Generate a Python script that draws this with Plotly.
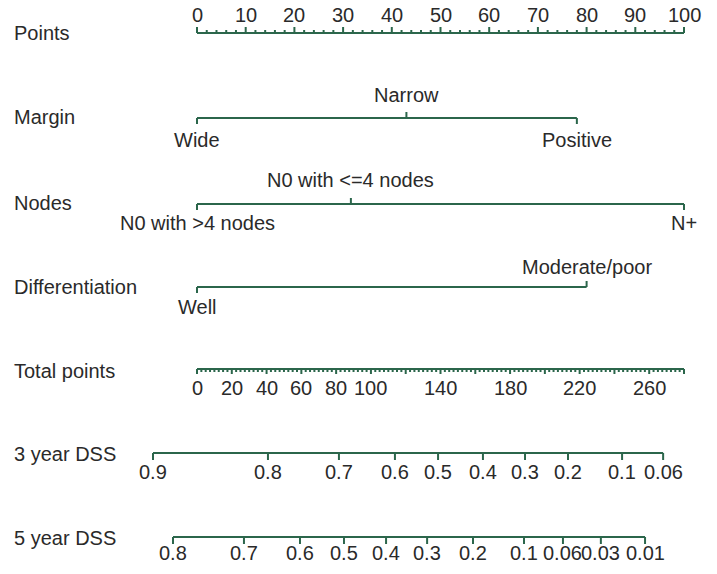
import plotly.graph_objects as go

# ---------------- data ----------------
points_labels = [0, 10, 20, 30, 40, 50, 60, 70, 80, 90, 100]

margin_levels = ["Wide", "Narrow", "Positive"]
margin_points = [0, 43, 78]
margin_side = ["below", "above", "below"]

nodes_levels = ["N0 with >4 nodes", "N0 with <=4 nodes", "N+"]
nodes_points = [0, 31.6, 100]
nodes_side = ["below", "above", "below"]

diff_levels = ["Well", "Moderate/poor"]
diff_points = [0, 80]
diff_side = ["below", "above"]

total_labels = [0, 20, 40, 60, 80, 100, 140, 180, 220, 260]
total_max = 280

dss3_labels = ["0.9", "0.8", "0.7", "0.6", "0.5", "0.4", "0.3", "0.2", "0.1", "0.06"]
dss3_total = [-25.3, 40.8, 81.6, 113.8, 138.6, 164.4, 188.6, 213.3, 244.4, 268.0]

dss5_labels = ["0.8", "0.7", "0.6", "0.5", "0.4", "0.3", "0.2", "0.1", "0.06", "0.03", "0.01"]
dss5_total = [-13.8, 27.0, 59.2, 84.5, 108.7, 132.3, 158.7, 188.0, 210.4, 232.2, 257.6]

row_names = ["Points", "Margin", "Nodes", "Differentiation", "Total points", "3 year DSS", "5 year DSS"]

# ---------------- style / layout ----------------
W, H = 717, 574
PX0, PX100 = 197.0, 684.0   # pixel positions of points 0 and 100
ppx = (PX100 - PX0) / 100.0
row_y = [33, 118, 204, 287, 369, 453, 537]
label_y = [33, 117, 203, 287, 371, 454, 538]
GREEN = "#2b664b"
TXT = "#2a2a2a"
FONT = "Liberation Sans, Arial, sans-serif"
FS = 20

def t2p(t):  # total points -> points scale
    return t * 100.0 / total_max

fig = go.Figure()

def add_line(xs, ys):
    fig.add_trace(go.Scatter(x=xs, y=ys, mode="lines", line=dict(color=GREEN, width=2),
                             hoverinfo="skip", showlegend=False))

def ticks(xvals, y, length):
    xs, ys = [], []
    for x in xvals:
        xs += [x, x, None]
        ys += [y, y + length, None]
    add_line(xs, ys)

ann = []
def text(x, y, s, xanchor="center", size=FS):
    ann.append(dict(x=x, y=y, text=s, showarrow=False, xanchor=xanchor, yanchor="middle",
                    font=dict(family=FONT, size=size, color=TXT)))

# row labels
left_x = (12 - PX0) / ppx
for name, y in zip(row_names, label_y):
    text(left_x, y, name, xanchor="left")

# Points axis
y = row_y[0]
add_line([0, 100], [y, y])
ticks(points_labels, y, -6)
ticks([v for v in range(0, 101, 2) if v % 10 != 0], y, -3)
for v in points_labels:
    text(v, y - 18, str(v))

# categorical variables
for levels, pts, sides, y, up, dn in [(margin_levels, margin_points, margin_side, row_y[1], 23, 22),
                                      (nodes_levels, nodes_points, nodes_side, row_y[2], 24, 19),
                                      (diff_levels, diff_points, diff_side, row_y[3], 20, 20)]:
    add_line([min(pts), max(pts)], [y, y])
    for lv, p, sd in zip(levels, pts, sides):
        if sd == "above":
            ticks([p], y, -6)
            text(p, y - up, lv)
        else:
            ticks([p], y, 6)
            text(p, y + dn, lv)

# Total points
y = row_y[4]
add_line([0, t2p(total_max)], [y, y])
ticks([t2p(v) for v in range(0, total_max + 1, 20)], y, 5)
minor = [v / 2 for v in range(0, total_max * 2 + 1, 5) if (v / 2) % 20 != 0]
ticks([t2p(v) for v in minor], y, 3)
for v in total_labels:
    text(t2p(v), y + 19, str(v))

# DSS axes
for labels, tots, y, dy in [(dss3_labels, dss3_total, row_y[5], 19), (dss5_labels, dss5_total, row_y[6], 16)]:
    xs = [t2p(t) for t in tots]
    add_line([min(xs), max(xs)], [y, y])
    ticks(xs, y, 7)
    for lb, x in zip(labels, xs):
        text(x, y + dy, lb)

fig.update_layout(
    width=W, height=H, autosize=False,
    margin=dict(l=0, r=0, t=0, b=0),
    paper_bgcolor="white", plot_bgcolor="white",
    xaxis=dict(range=[(0 - PX0) / ppx, (W - PX0) / ppx], visible=False, fixedrange=True),
    yaxis=dict(range=[H, 0], visible=False, fixedrange=True),
    annotations=ann,
    showlegend=False,
    hovermode=False,
)

fig.write_html("out.html", config={"displayModeBar": False, "staticPlot": True})

# remove the default page margin so the figure sits at the window's top-left corner
with open("out.html", "r", encoding="utf-8") as f:
    html = f.read()
html = html.replace("<head>", "<head><style>html,body{margin:0;padding:0;overflow:hidden;}</style>", 1)
with open("out.html", "w", encoding="utf-8") as f:
    f.write(html)
